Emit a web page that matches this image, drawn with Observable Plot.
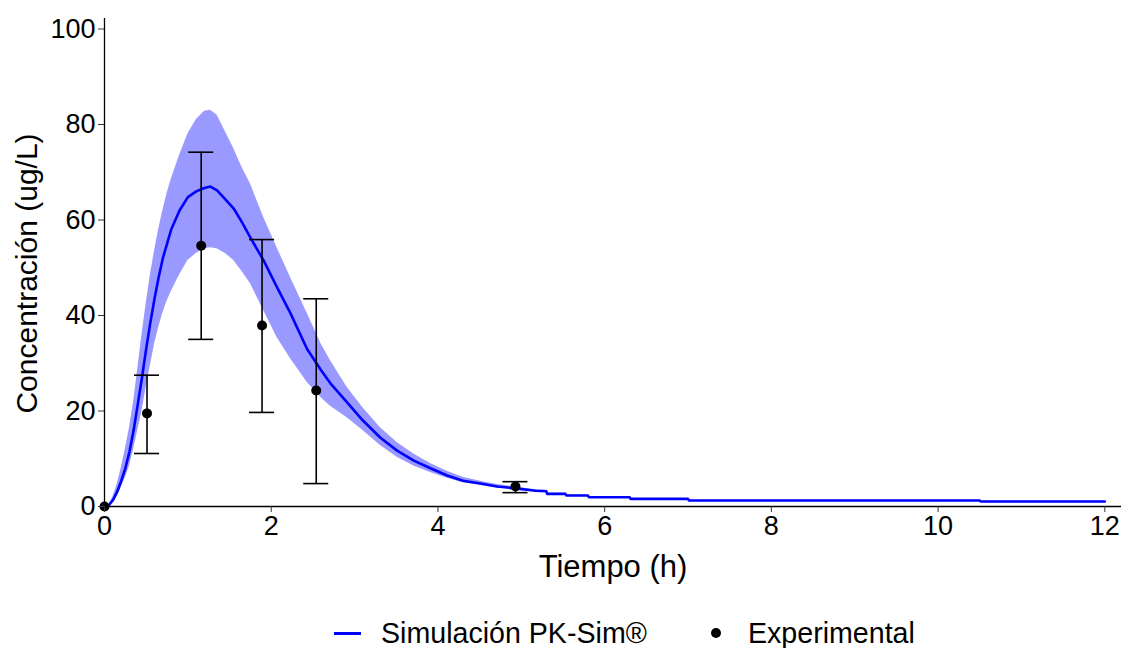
<!DOCTYPE html>
<html><head><meta charset="utf-8">
<script src="https://cdn.jsdelivr.net/npm/d3@7"></script>
<script src="https://cdn.jsdelivr.net/npm/@observablehq/plot@0.6"></script>
<style>
body{margin:0;background:#fff;font-family:"Liberation Sans",Arial,sans-serif;}
#chart svg{display:block;}
#legend{position:relative;width:1128px;height:48px;}
.lg{position:absolute;top:33px;transform:translateY(-50%);font-size:28.6px;line-height:1;color:#000;white-space:nowrap;}
.sw-line{position:absolute;left:334px;top:32px;width:27px;height:3px;background:#0000ff;}
.sw-dot{position:absolute;left:711px;top:28px;width:10px;height:10px;border-radius:50%;background:#000;}
</style></head><body>
<div id="chart"></div>
<div id="legend">
  <div class="sw-line"></div><div class="lg" style="left:381px">Simulación PK-Sim®</div>
  <div class="sw-dot"></div><div class="lg" style="left:748px">Experimental</div>
</div>
<script>
// Simulation (PK-Sim) mean and variability band
const simTime  = [0,0.05,0.1,0.15,0.2,0.25,0.3,0.35,0.4,0.45,0.5,0.55,0.6,0.65,0.7,0.75,0.8,0.9,1.0,1.1,1.2,1.27,1.35,1.45,1.55,1.65,1.75,1.91,2.07,2.23,2.43,2.6,2.71,2.91,3.1,3.31,3.51,3.71,3.91,4.11,4.3,4.51,4.71,4.93,5.17,5.3,5.31,5.53,5.54,5.8,5.81,6.3,6.31,7.0,7.01,10.5,10.51,12];
const simMean  = [0,0.2,1.3,3.0,5.3,8.0,11.5,16.0,21.5,27.0,33.0,38.5,43.5,48.0,52.0,55.0,58.0,62.0,64.8,66.0,66.7,67.0,66.2,64.3,62.4,59.5,56.3,51.5,45.9,40.5,33.0,28.5,25.8,21.8,18.0,14.4,11.7,9.6,8.0,6.5,5.4,4.8,4.2,3.8,3.3,3.2,2.65,2.65,2.3,2.3,1.95,1.95,1.6,1.6,1.25,1.25,1.05,1.05];
const simLower = [0,0.1,0.9,2.2,4.0,6.0,8.5,12.0,16.0,20.0,25.0,29.5,34.0,37.5,40.5,43.0,45.0,48.5,51.5,53.0,54.0,54.2,54.0,53.0,51.5,49.2,46.7,41.0,35.4,31.0,26.0,22.8,21.0,18.6,15.9,12.8,10.3,8.5,7.1,5.9,5.0,4.4,3.9,3.5,3.1,3.0,2.5,2.5,2.2,2.2,1.85,1.85,1.5,1.5,1.2,1.2,1.0,1.0];
const simUpper = [0,0.3,2.0,4.5,8.0,12.0,16.5,22.0,29.0,36.0,42.5,48.5,53.5,58.0,62.0,65.5,68.5,73.5,78.0,81.0,82.8,83.0,82.0,78.5,75.0,71.0,67.6,60.5,54.2,48.0,40.5,34.0,30.6,25.0,20.7,16.5,13.4,11.0,9.0,7.4,6.1,5.3,4.6,4.1,3.5,3.4,2.8,2.8,2.4,2.4,2.05,2.05,1.7,1.7,1.3,1.3,1.1,1.1];

// Experimental observations (mean with error bars)
const expTime = [0,0.51,1.16,1.89,2.54,4.93];
const expMean = [0,19.5,54.6,37.9,24.3,4.2];
const expLow  = [0,11.1,35.0,19.7,4.8,2.9];
const expHigh = [0,27.5,74.2,55.9,43.5,5.2];

// Axis ticks and labels
const xTicks = [0,2,4,6,8,10,12];
const yTicks = [0,20,40,60,80,100];
const xTitle = "Tiempo (h)";
const yTitle = "Concentración (ug/L)";

const sim = simTime.map((t,i)=>({t, mean:simMean[i], lo:simLower[i], hi:simUpper[i]}));
const exp = expTime.map((t,i)=>({t, mean:expMean[i], lo:expLow[i], hi:expHigh[i]}));
const bars = exp.filter(d => d.hi > d.lo);
const capHalf = 0.15;

const chart = Plot.plot({
  width: 1128, height: 600,
  marginTop: 18, marginLeft: 104, marginRight: 7, marginBottom: 94,
  style: {fontFamily: "'Liberation Sans', Arial, sans-serif", fontSize: "27px", color: "#000", background: "#fff"},
  x: {domain: [0, 12.2], label: null},
  y: {domain: [0, 102.2], label: null},
  marks: [
    Plot.areaY(sim, {x: "t", y1: "lo", y2: "hi", fill: "#0000ff", fillOpacity: 0.4}),
    Plot.line(sim, {x: "t", y: "mean", stroke: "#0000ff", strokeWidth: 2.6}),
    Plot.ruleX(bars, {x: "t", y1: "lo", y2: "hi", stroke: "#000", strokeWidth: 1.6}),
    Plot.ruleY(bars, {y: "hi", x1: d => d.t - capHalf, x2: d => d.t + capHalf, stroke: "#000", strokeWidth: 1.6}),
    Plot.ruleY(bars, {y: "lo", x1: d => d.t - capHalf, x2: d => d.t + capHalf, stroke: "#000", strokeWidth: 1.6}),
    Plot.dot(exp, {x: "t", y: "mean", r: 5, fill: "#000", stroke: "none"}),
    Plot.ruleX([0], {stroke: "#000", strokeWidth: 1.3}),
    Plot.ruleY([0], {stroke: "#000", strokeWidth: 1.3}),
    Plot.axisX({ticks: xTicks, tickSize: 6, tickPadding: 3, fontSize: 27, label: null, fill: "#000", stroke: "#333"}),
    Plot.axisY({ticks: yTicks, tickSize: 6, tickPadding: 3, fontSize: 27, label: null, fill: "#000", stroke: "#333"}),
    Plot.text([xTitle], {frameAnchor: "bottom", lineAnchor: "middle", dy: 61, fontSize: 31, fill: "#000"}),
    Plot.text([yTitle], {frameAnchor: "left", textAnchor: "middle", rotate: -90, dx: -77, dy: 11, fontSize: 30, fill: "#000"})
  ]
});
document.getElementById("chart").appendChild(chart);
</script>
</body></html>
